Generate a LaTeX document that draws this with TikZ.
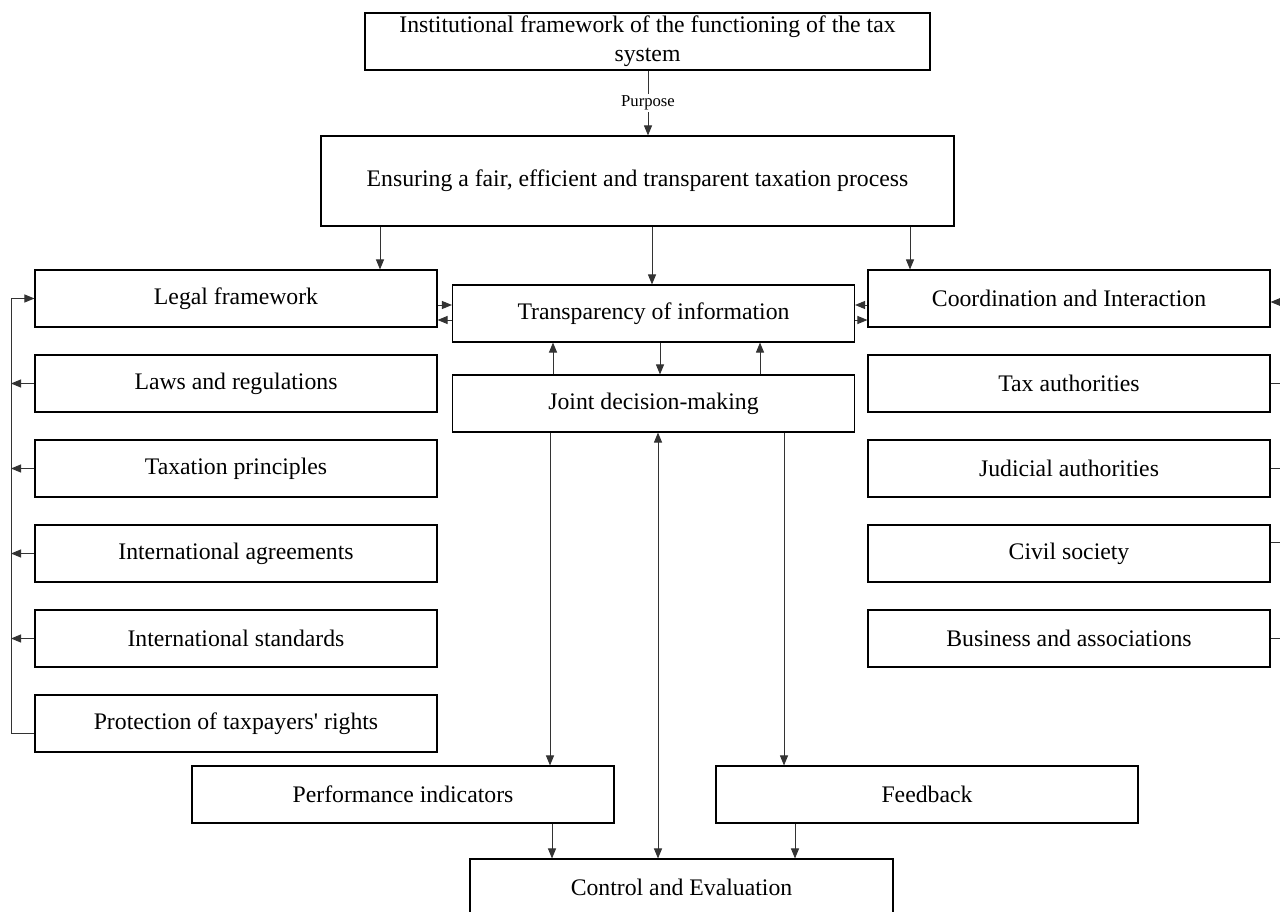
\documentclass[tikz,border=0pt]{standalone}
\usepackage{fontspec}
\setmainfont{Liberation Serif}
\usetikzlibrary{arrows.meta,calc}
\begin{document}
\begin{tikzpicture}[x=0.75pt,y=-0.75pt,
  box/.style={draw=black, line width=0.8pt, fill=white, inner sep=0pt, minimum height=42.75pt, font=\fontsize{17.8}{21}\selectfont, align=center},
  lbox/.style={box, minimum width=301.5pt},
  conn/.style={draw=black!80, line width=0.7pt},
  arr/.style={conn, -{Triangle[length=7.5pt,width=6pt]}},
  darr/.style={conn, {Triangle[length=7.5pt,width=6pt]}-{Triangle[length=7.5pt,width=6pt]}}
]
\useasboundingbox (0,0) rectangle (1280,912);
% nodes
\node[box, minimum width=423.75pt, font=\fontsize{17.8}{21.5}\selectfont] (top) at (647.5,41.5) {Institutional framework of the functioning of the tax\\system};
\node[box, minimum width=474.75pt, minimum height=67.5pt] (ens) at (637.5,181) {Ensuring a fair, efficient and transparent taxation process};
\node[lbox] (legal) at (236,298.5) {Legal framework};
\node[lbox] (transp) at (653.5,313.5) {Transparency of information};
\node[lbox] (coord) at (1069,298.5) {Coordination and Interaction};
\node[lbox] (joint) at (653.5,403.5) {Joint decision-making};
\node[lbox] (laws) at (236,383.5) {Laws and regulations};
\node[lbox] (princ) at (236,468.5) {Taxation principles};
\node[lbox] (agree) at (236,553.5) {International agreements};
\node[lbox] (stand) at (236,638.5) {International standards};
\node[lbox] (prot) at (236,723.5) {Protection of taxpayers\textquotesingle{} rights};
\node[lbox] (taxa) at (1069,383.5) {Tax authorities};
\node[lbox] (jud) at (1069,468.5) {Judicial authorities};
\node[lbox] (civ) at (1069,553.5) {Civil society};
\node[lbox] (bus) at (1069,638.5) {Business and associations};
\node[box, minimum width=316.5pt] (perf) at (403,794.5) {Performance indicators};
\node[box, minimum width=316.5pt] (feed) at (927,794.5) {Feedback};
\node[box, minimum width=317.25pt] (ctrl) at (681.5,887.5) {Control and Evaluation};
% helper coordinates
\coordinate (lb) at (11,0);
\coordinate (rb) at (1290,0);
% top -> ensuring
\draw[arr] (top.south -| 648,0) -- node[fill=white, inner sep=1.5pt, font=\fontsize{12.5}{14}\selectfont]{Purpose} (ens.north -| 648,0);
% ensuring -> row
\draw[arr] (ens.south -| 380,0) -- (legal.north -| 380,0);
\draw[arr] (ens.south -| 652,0) -- (transp.north -| 652,0);
\draw[arr] (ens.south -| 910,0) -- (coord.north -| 910,0);
% legal <-> transparency
\coordinate (a1) at ($(legal.east)+(0,6.5)$);
\coordinate (a2) at ($(transp.west)+(0,6.5)$);
\draw[arr] (a1) -- (a1 -| transp.west);
\draw[arr] (a2) -- (a2 -| legal.east);
% coordination <-> transparency
\coordinate (b1) at ($(coord.west)+(0,6.5)$);
\coordinate (b2) at ($(transp.east)+(0,6.5)$);
\draw[arr] (b1) -- (b1 -| transp.east);
\draw[arr] (b2) -- (b2 -| coord.west);
% right edge into coordination
\coordinate (c1) at ($(coord.east)+(0,3.5)$);
\draw[arr] (c1 -| rb) -- (c1);
% right rows to edge
\draw[conn] (taxa.east) -- (taxa.east -| rb);
\draw[conn] (jud.east) -- (jud.east -| rb);
\coordinate (c2) at ($(civ.east)+(0,-11.5)$);
\draw[conn] (c2) -- (c2 -| rb);
\draw[conn] (bus.east) -- (bus.east -| rb);
% left bracket
\coordinate (p1) at ($(prot.west)+(0,9.5)$);
\draw[arr] (p1) -- (p1 -| lb) -- (legal.west -| lb) -- (legal.west);
\draw[arr] (laws.west) -- (laws.west -| lb);
\draw[arr] (princ.west) -- (princ.west -| lb);
\draw[arr] (agree.west) -- (agree.west -| lb);
\draw[arr] (stand.west) -- (stand.west -| lb);
% joint <-> transparency
\draw[arr] (joint.north -| 553,0) -- (transp.south -| 553,0);
\draw[arr] (transp.south -| 660,0) -- (joint.north -| 660,0);
\draw[arr] (joint.north -| 760,0) -- (transp.south -| 760,0);
% joint -> bottom
\draw[arr] (joint.south -| 550,0) -- (perf.north -| 550,0);
\draw[darr] (joint.south -| 658,0) -- (ctrl.north -| 658,0);
\draw[arr] (joint.south -| 784,0) -- (feed.north -| 784,0);
% bottom -> control
\draw[arr] (perf.south -| 552,0) -- (ctrl.north -| 552,0);
\draw[arr] (feed.south -| 795,0) -- (ctrl.north -| 795,0);
\end{tikzpicture}
\end{document}
